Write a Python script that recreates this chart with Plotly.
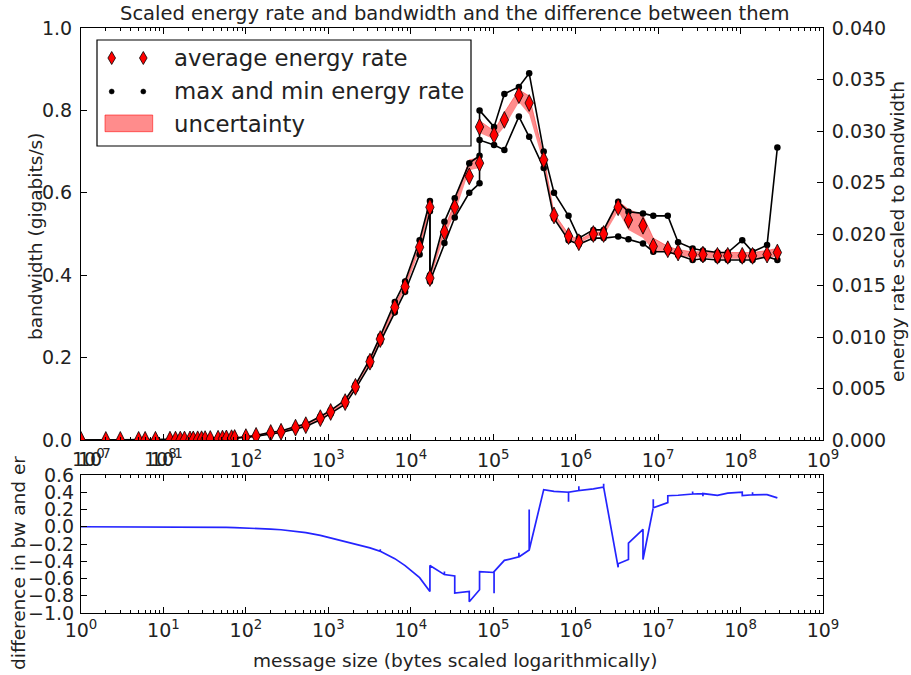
import plotly.graph_objects as go

# ---------------------------------------------------------------------------
# Measurements: message size in bytes (a size listed twice is a second run)
# Energy rates are expressed on the bandwidth scale (0..1 <-> 0..0.040)
# ---------------------------------------------------------------------------
sizes = [1, 2, 3, 5, 6, 8, 12, 14, 16, 18, 21, 23, 26, 29, 32, 37, 46, 52, 58, 67, 73,
         100, 133, 200, 267, 400, 533, 800, 1067, 1600, 2133, 3200, 4267,
         6400, 8533, 12800, 17067, 17067, 25600, 34133, 51200, 68267, 68267,
         102400, 136533, 204800, 273067,
         409600, 546133, 819200, 1092267, 1638400, 2184533, 3276800, 4369067,
         6553600, 8738133, 13107200, 17476267, 26214400, 34952533, 52428800,
         69905067, 104857600, 139810133, 209715200, 279620267]

rate_avg = [0.0001, 0.0001, 0.0002, 0.0003, 0.0004, 0.0005, 0.0008, 0.0009, 0.0010, 0.0012,
            0.0014, 0.0015, 0.0017, 0.0019, 0.0021, 0.0024, 0.0030, 0.0034, 0.0038, 0.0044, 0.0048,
            0.007, 0.010, 0.017, 0.020, 0.030, 0.036, 0.053, 0.068, 0.092, 0.129, 0.190, 0.245,
            0.322, 0.372, 0.468, 0.565, 0.393, 0.505, 0.565, 0.640, 0.672, 0.760,
            0.740, 0.777, 0.837, 0.818,
            0.680, 0.545, 0.495, 0.480, 0.500, 0.500, 0.565, 0.534,
            0.520, 0.470, 0.463, 0.455, 0.450, 0.450, 0.447,
            0.447, 0.447, 0.447, 0.450, 0.455]

rate_min = [0.0001, 0.0001, 0.0002, 0.0003, 0.0004, 0.0005, 0.0008, 0.0009, 0.0010, 0.0012,
            0.0014, 0.0015, 0.0017, 0.0019, 0.0021, 0.0024, 0.0030, 0.0034, 0.0038, 0.0044, 0.0048,
            0.006, 0.009, 0.015, 0.018, 0.027, 0.033, 0.049, 0.064, 0.087, 0.124, 0.183, 0.238,
            0.310, 0.360, 0.450, 0.555, 0.385, 0.478, 0.540, 0.600, 0.623, 0.728,
            0.716, 0.704, 0.785, 0.736,
            0.660, 0.538, 0.485, 0.475, 0.490, 0.490, 0.494, 0.487,
            0.477, 0.457, 0.457, 0.449, 0.437, 0.440, 0.437,
            0.437, 0.437, 0.437, 0.445, 0.437]

rate_max = [0.0001, 0.0001, 0.0002, 0.0003, 0.0004, 0.0005, 0.0008, 0.0009, 0.0010, 0.0012,
            0.0014, 0.0015, 0.0017, 0.0019, 0.0021, 0.0024, 0.0030, 0.0034, 0.0038, 0.0044, 0.0048,
            0.008, 0.011, 0.019, 0.022, 0.033, 0.039, 0.057, 0.072, 0.097, 0.134, 0.197, 0.252,
            0.335, 0.385, 0.485, 0.580, 0.400, 0.530, 0.587, 0.672, 0.690, 0.800,
            0.760, 0.840, 0.857, 0.890,
            0.700, 0.600, 0.544, 0.490, 0.510, 0.510, 0.578, 0.554,
            0.550, 0.544, 0.544, 0.480, 0.465, 0.460, 0.455,
            0.455, 0.485, 0.457, 0.473, 0.710]

band_lo = [0.0001, 0.0001, 0.0002, 0.0003, 0.0004, 0.0005, 0.0008, 0.0009, 0.0010, 0.0012,
           0.0014, 0.0015, 0.0017, 0.0019, 0.0021, 0.0024, 0.0030, 0.0034, 0.0038, 0.0044, 0.0048,
           0.005, 0.008, 0.015, 0.018, 0.028, 0.034, 0.050, 0.065, 0.089, 0.125, 0.186, 0.240,
           0.316, 0.366, 0.460, 0.558, 0.388, 0.495, 0.550, 0.655, 0.660, 0.745,
           0.730, 0.760, 0.820, 0.790,
           0.670, 0.540, 0.488, 0.477, 0.495, 0.495, 0.555, 0.510,
           0.490, 0.460, 0.455, 0.447, 0.443, 0.443, 0.440,
           0.440, 0.440, 0.440, 0.443, 0.445]

band_hi = [0.0001, 0.0001, 0.0002, 0.0003, 0.0004, 0.0005, 0.0008, 0.0009, 0.0010, 0.0012,
           0.0014, 0.0015, 0.0017, 0.0019, 0.0021, 0.0024, 0.0030, 0.0034, 0.0038, 0.0044, 0.0048,
           0.009, 0.012, 0.019, 0.022, 0.032, 0.038, 0.056, 0.071, 0.095, 0.133, 0.194, 0.250,
           0.328, 0.378, 0.476, 0.572, 0.398, 0.515, 0.575, 0.680, 0.685, 0.775,
           0.750, 0.795, 0.850, 0.835,
           0.690, 0.550, 0.500, 0.485, 0.505, 0.505, 0.580, 0.560,
           0.545, 0.490, 0.470, 0.462, 0.457, 0.457, 0.455,
           0.455, 0.455, 0.455, 0.460, 0.465]

# Difference between bandwidth and scaled energy rate
diff_sizes = [1, 2, 3, 5, 8, 12, 16, 21, 26, 32, 46, 58, 73, 100, 133, 200, 267, 400, 533,
              800, 1067, 1600, 2133, 3200, 4267, 4267, 4267, 6400, 8533, 12800, 17067, 17067,
              25600, 25600, 25600, 34133, 34133, 51200, 51200, 68267, 68267,
              102400, 102400, 102400, 136533, 204800, 204800, 204800,
              273067, 273067, 273067, 409600, 546133, 819200, 819200, 819200,
              1092267, 1092267, 1092267, 1638400, 2184533, 2184533, 2184533,
              3276800, 3276800, 4369067, 4369067, 6553600, 6553600,
              8738133, 8738133, 8738133, 13107200, 13107200, 17476267,
              26214400, 26214400, 26214400, 34952533, 34952533, 34952533,
              52428800, 69905067, 104857600, 104857600,
              139810133, 139810133, 139810133, 209715200, 279620267]

diff_values = [0.0, 0.0, 0.0, -0.001, -0.001, -0.002, -0.002, -0.003, -0.003, -0.004, -0.006,
               -0.008, -0.010, -0.013, -0.018, -0.027, -0.035, -0.050, -0.068,
               -0.100, -0.130, -0.165, -0.195, -0.245, -0.285, -0.260, -0.285, -0.370, -0.450,
               -0.590, -0.750, -0.450,
               -0.555, -0.520, -0.555, -0.570, -0.770, -0.750, -0.870, -0.730, -0.520,
               -0.530, -0.770, -0.520, -0.390, -0.350, -0.300, -0.350,
               -0.270, 0.200, -0.270, 0.430, 0.410, 0.400, 0.290, 0.400,
               0.420, 0.470, 0.420, 0.440, 0.460, 0.500, 0.460,
               -0.470, -0.430, -0.380, -0.190, -0.030, -0.380,
               0.220, 0.320, 0.220, 0.280, 0.360, 0.365,
               0.380, 0.410, 0.380, 0.385, 0.355, 0.385,
               0.365, 0.390, 0.400, 0.360,
               0.370, 0.400, 0.370, 0.373, 0.335]

legend_labels = ["average energy rate", "max and min energy rate", "uncertainty"]

decades = list(range(10))
decade_labels = ["10<sup>%d</sup>" % k for k in decades]

W, H = 911, 675
FONT = "DejaVu Sans"
INK = "#222222"
BAND = "rgba(255,0,0,0.45)"


def px_x(p):
    return p / W


def px_y(p):
    return 1 - p / H


x_dom = [px_x(81), px_x(823)]
top_dom = [px_y(440), px_y(28)]
bot_dom = [px_y(613), px_y(475)]

minor_vals = [m * 10 ** k for k in range(9) for m in range(2, 10)]

fig = go.Figure()

# uncertainty band
fig.add_trace(go.Scatter(x=sizes, y=band_lo, mode="lines",
                         line=dict(width=0, color="rgba(255,0,0,0)"),
                         showlegend=False, hoverinfo="skip"))
fig.add_trace(go.Scatter(x=sizes, y=band_hi, mode="lines", fill="tonexty",
                         fillcolor=BAND,
                         line=dict(width=0.8, color="rgba(255,0,0,0.5)"),
                         showlegend=False, hoverinfo="skip"))

# max and min runs
for series in (rate_max, rate_min):
    fig.add_trace(go.Scatter(x=sizes, y=series, mode="lines+markers",
                             line=dict(color="black", width=1.6),
                             marker=dict(color="black", size=6.5),
                             showlegend=False))

# average energy rate
fig.add_trace(go.Scatter(x=sizes, y=rate_avg, mode="markers",
                         marker=dict(symbol="diamond-tall", color="red", size=12,
                                     line=dict(color="black", width=0.8)),
                         showlegend=False))

# keeps the right-hand energy axis attached to the top panel
fig.add_trace(go.Scatter(x=[None], y=[None], yaxis="y2", showlegend=False,
                         hoverinfo="skip"))

# difference panel
fig.add_trace(go.Scatter(x=diff_sizes, y=diff_values, mode="lines", xaxis="x2", yaxis="y3",
                         line=dict(color="#2424ff", width=1.7), showlegend=False))

axis_common = dict(showline=True, linecolor="black", linewidth=1, ticks="inside",
                   tickcolor="black", showgrid=False, zeroline=False, automargin=False,
                   tickfont=dict(family=FONT, size=19, color=INK))

top_ticktext = ["", ""] + decade_labels[2:]

fig.update_layout(
    width=W, height=H,
    margin=dict(l=0, r=0, t=0, b=0, autoexpand=False),
    paper_bgcolor="white", plot_bgcolor="white",
    font=dict(family=FONT, color=INK),
    showlegend=False,
    xaxis=dict(axis_common, domain=x_dom, anchor="y", type="log", range=[0, 9],
               mirror="ticks", ticklen=6, ticklabelstandoff=3,
               tickmode="array", tickvals=[10 ** k for k in decades], ticktext=top_ticktext,
               minor=dict(ticks="inside", ticklen=3, tickcolor="black",
                          tickmode="array", tickvals=minor_vals)),
    yaxis=dict(axis_common, domain=top_dom, anchor="x", range=[0, 1], dtick=0.2,
               tickformat=".1f", ticklen=6, ticklabelstandoff=4),
    yaxis2=dict(axis_common, overlaying="y", anchor="x", side="right", range=[0, 0.04],
                dtick=0.005, tickformat=".3f", ticklen=6, ticklabelstandoff=4),
    xaxis2=dict(axis_common, domain=x_dom, anchor="y3", type="log", range=[0, 9],
                mirror="ticks", ticklen=6,
                tickmode="array", tickvals=[10 ** k for k in decades], ticktext=decade_labels,
                minor=dict(ticks="inside", ticklen=3, tickcolor="black",
                           tickmode="array", tickvals=minor_vals)),
    yaxis3=dict(axis_common, domain=bot_dom, anchor="x2", range=[-1.0, 0.6], dtick=0.2,
                tickformat=".1f", mirror="ticks", ticklen=6, ticklabelstandoff=2),
)

annotations = [
    dict(text="Scaled energy rate and bandwidth and the difference between them",
         x=px_x(455), y=px_y(14), font=dict(size=19.5)),
    dict(text="bandwidth (gigabits/s)", x=px_x(35), y=px_y(237), textangle=-90,
         font=dict(size=18.5)),
    dict(text="energy rate scaled to bandwidth", x=px_x(898), y=px_y(232), textangle=-90,
         font=dict(size=18.5)),
    dict(text="difference in bw and er", x=px_x(18), y=px_y(563), textangle=-90,
         font=dict(size=18.5)),
    dict(text="message size (bytes scaled logarithmically)", x=px_x(455), y=px_y(660),
         font=dict(size=18.5)),
]
for a in annotations:
    a.update(xref="paper", yref="paper", showarrow=False, xanchor="center", yanchor="middle")
    a["font"].update(family=FONT, color=INK)

# overlapping labels of the twin axis at the first two decades
for dec, label, shift in [(0, "10<sup>0</sup>", -11), (0, "10<sup>7</sup>", -5),
                          (1, "10<sup>8</sup>", -21), (1, "10<sup>1</sup>", -15)]:
    annotations.append(dict(text=label, x=dec, xref="x", y=top_dom[0], yref="paper",
                            xanchor="left", yanchor="top", xshift=shift, yshift=-4,
                            showarrow=False,
                            font=dict(family=FONT, size=19, color=INK)))

# legend box drawn in figure pixels
box = dict(x0=97, y0=40, x1=471, y1=146)
rows_y = [58, 91.5, 123.5]
glyph_x = [111.7, 143.3]
shapes = [dict(type="rect", xref="paper", yref="paper",
               x0=px_x(box["x0"]), x1=px_x(box["x1"]),
               y0=px_y(box["y1"]), y1=px_y(box["y0"]),
               line=dict(color="black", width=1.2), fillcolor="white", layer="above")]
for gx in glyph_x:
    cy = rows_y[0]
    path = "M %f,%f L %f,%f L %f,%f L %f,%f Z" % (
        px_x(gx), px_y(cy - 6.5), px_x(gx + 3.8), px_y(cy),
        px_x(gx), px_y(cy + 6.5), px_x(gx - 3.8), px_y(cy))
    shapes.append(dict(type="path", xref="paper", yref="paper", path=path,
                       fillcolor="red", line=dict(color="black", width=0.8), layer="above"))
    cy = rows_y[1]
    shapes.append(dict(type="circle", xref="paper", yref="paper",
                       x0=px_x(gx - 2.5), x1=px_x(gx + 2.5),
                       y0=px_y(cy + 2.5), y1=px_y(cy - 2.5),
                       fillcolor="black", line=dict(color="black", width=0.5), layer="above"))
shapes.append(dict(type="rect", xref="paper", yref="paper",
                   x0=px_x(105), x1=px_x(152.7), y0=px_y(131.7), y1=px_y(115),
                   fillcolor=BAND, line=dict(color="rgba(255,0,0,0.55)", width=1),
                   layer="above"))
for label, cy in zip(legend_labels, rows_y):
    annotations.append(dict(text=label, x=px_x(172), y=px_y(cy), xref="paper", yref="paper",
                            xanchor="left", yanchor="middle", showarrow=False,
                            font=dict(family=FONT, size=22.8, color=INK)))

fig.update_layout(annotations=annotations, shapes=shapes)

fig.write_html("out.html")
